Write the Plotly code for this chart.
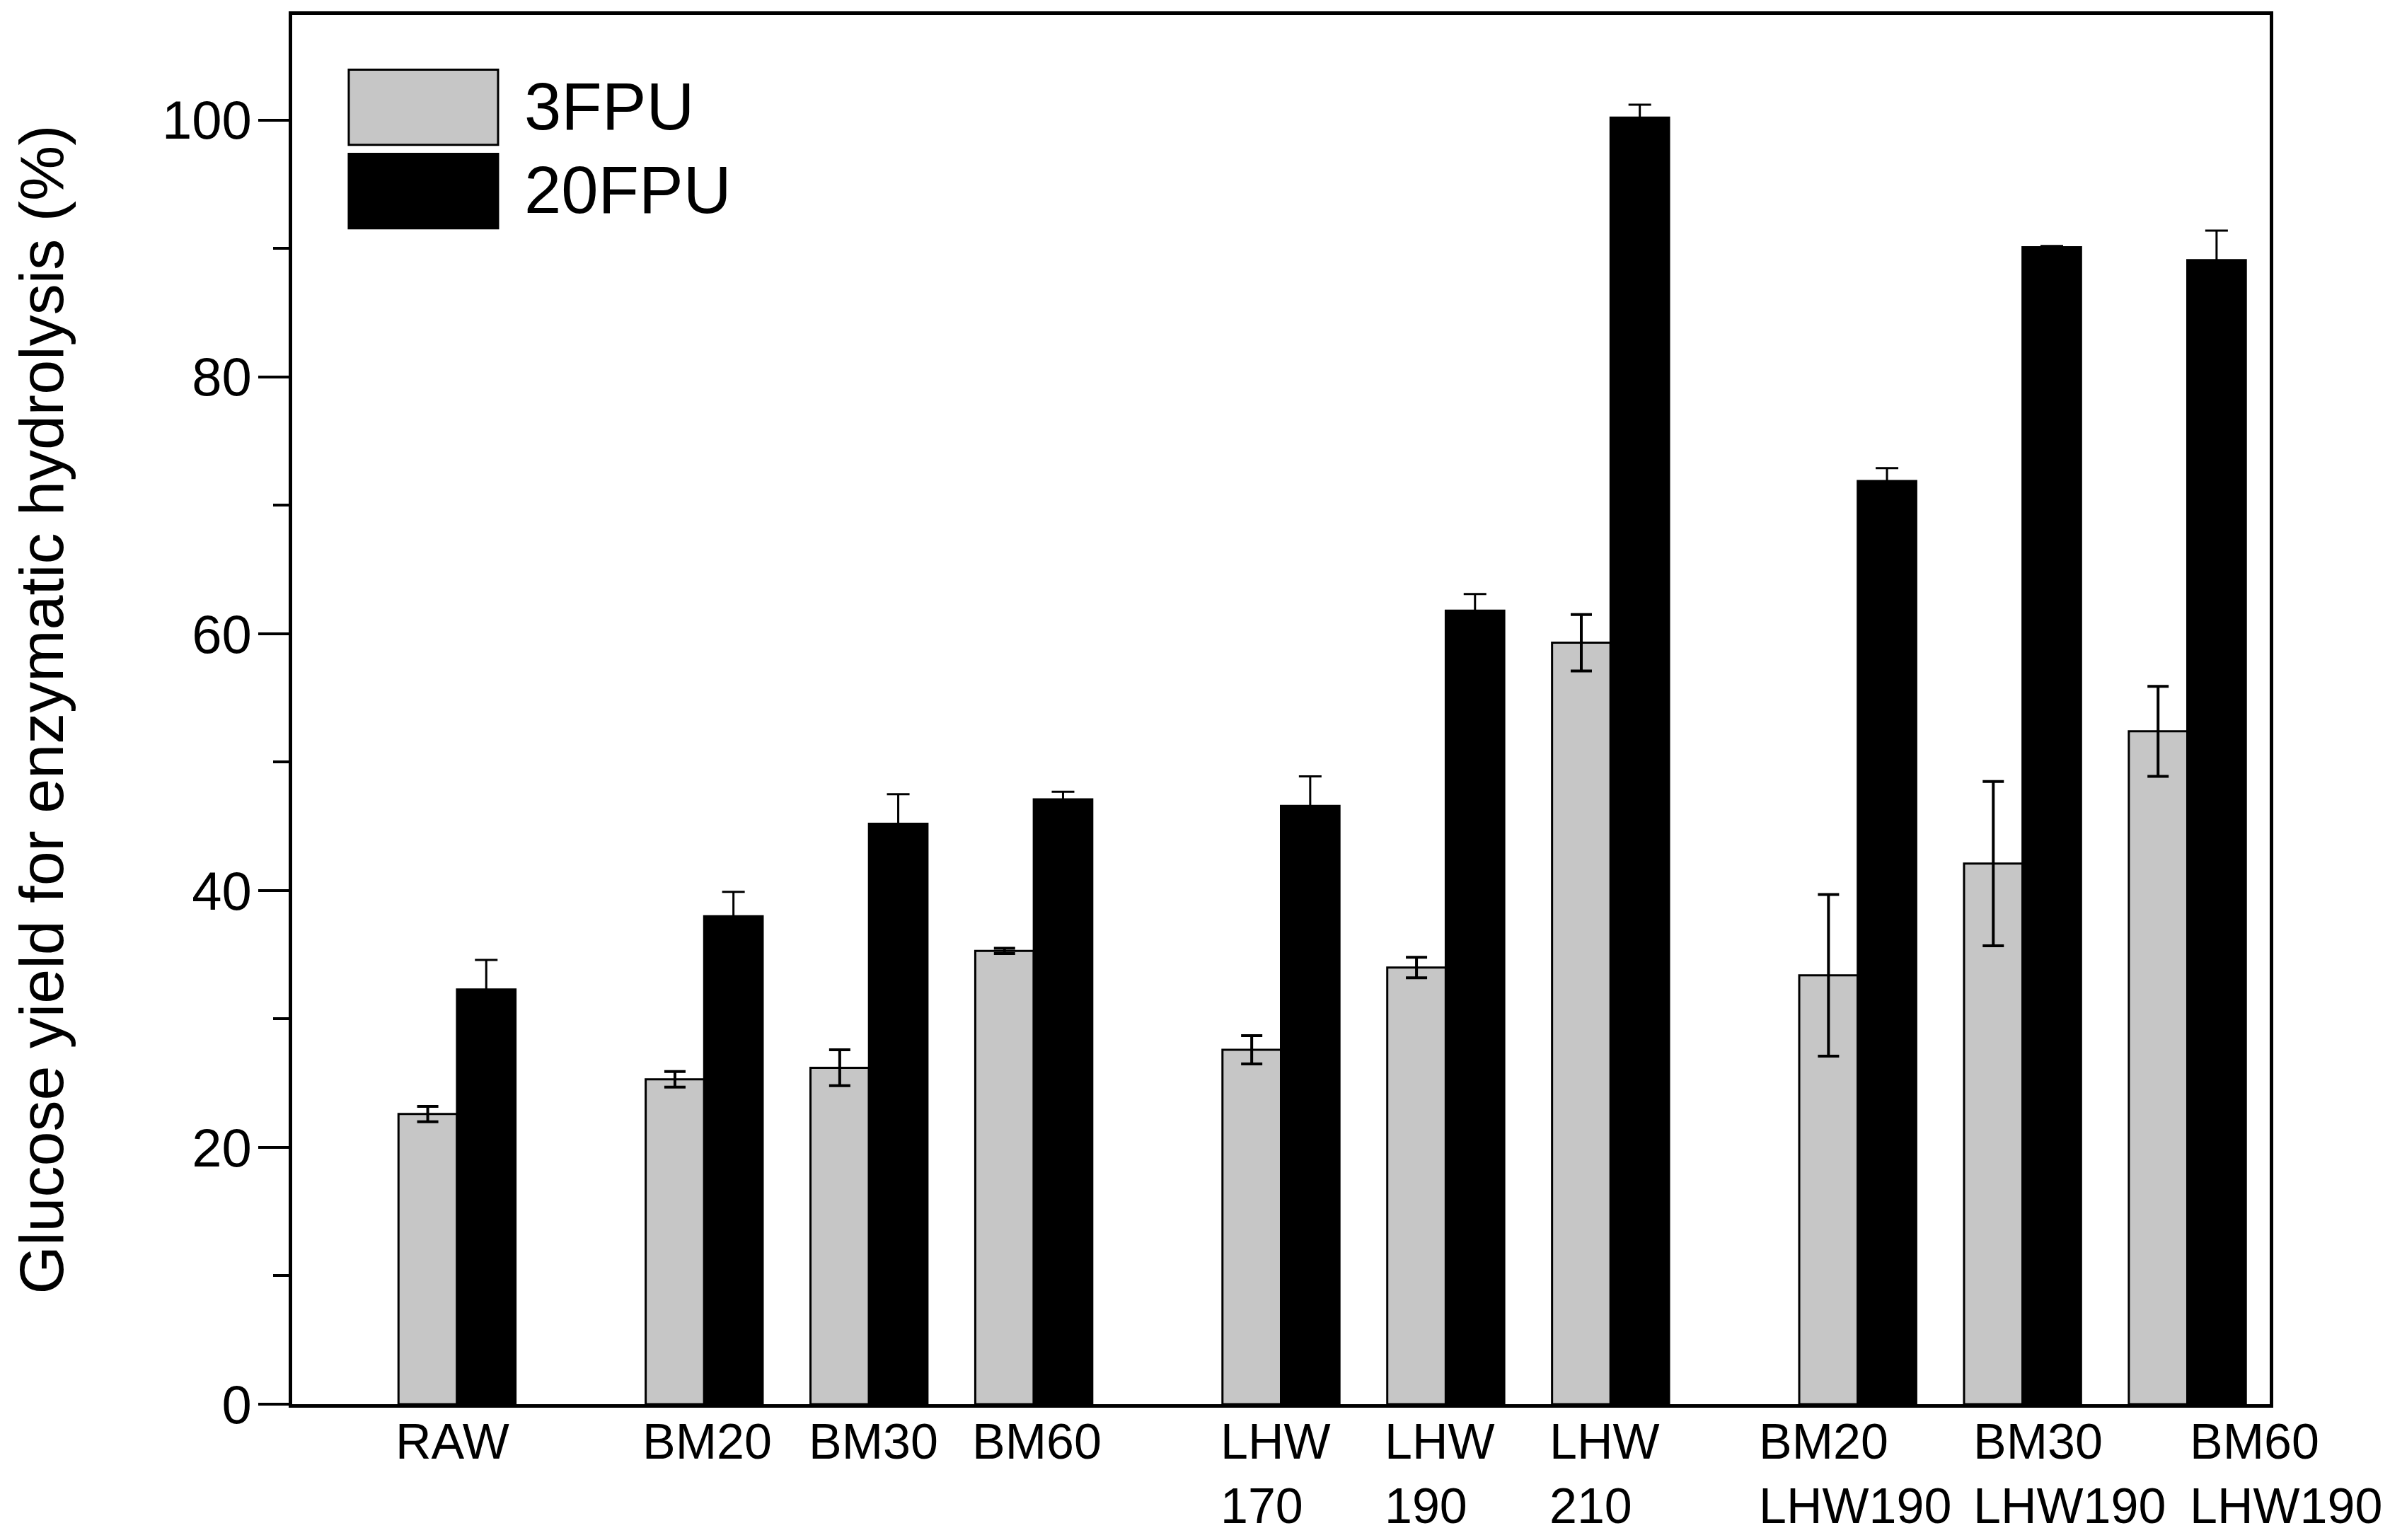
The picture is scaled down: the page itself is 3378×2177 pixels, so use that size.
import plotly.graph_objects as go

# ---- data ----
group_sizes = [1, 3, 3, 3]
categories = ["RAW", "BM20", "BM30", "BM60", "LHW 170", "LHW 190", "LHW 210",
              "BM20 LHW190", "BM30 LHW190", "BM60 LHW190"]
tick_labels = ["RAW", "BM20", "BM30", "BM60", "LHW<br>170", "LHW<br>190", "LHW<br>210",
               "BM20<br>LHW190", "BM30<br>LHW190", "BM60<br>LHW190"]
fpu3 = [22.6, 25.3, 26.2, 35.3, 27.6, 34.0, 59.3, 33.4, 42.1, 52.4]
fpu3_err = [0.6, 0.6, 1.4, 0.2, 1.1, 0.8, 2.2, 6.3, 6.4, 3.5]
fpu20 = [32.3, 38.0, 45.2, 47.1, 46.6, 61.8, 100.2, 71.9, 90.1, 89.1]
fpu20_err = [2.3, 1.9, 2.3, 0.6, 2.3, 1.3, 1.0, 1.0, 0.1, 2.3]
series_names = ["3FPU", "20FPU"]
y_ticks = [0, 20, 40, 60, 80, 100]
y_minor = [10, 30, 50, 70, 90]

# label placement tweaks (layout only, pixels)
label_xshift = [-6, 4, 6, 4, -8, -8, -8, -4, 66, 139]

# ---- category positions (groups separated by an extra half slot) ----
positions = []
p = 0.0
for n in group_sizes:
    for _ in range(n):
        positions.append(p)
        p += 1.0
    p += 0.5

GRAY = "#c6c6c6"
BLACK = "#000000"
FONT = "Liberation Sans, Arial, sans-serif"

fig = go.Figure()
fig.add_trace(go.Bar(
    x=positions, y=fpu3, name=series_names[0],
    marker=dict(color=GRAY, line=dict(color=BLACK, width=3)),
    error_y=dict(type="data", array=fpu3_err, visible=True, color=BLACK,
                 thickness=4, width=15),
    showlegend=False,
))
fig.add_trace(go.Bar(
    x=positions, y=fpu20, name=series_names[1],
    marker=dict(color=BLACK, line=dict(color=BLACK, width=3)),
    error_y=dict(type="data", array=fpu20_err, visible=True, color=BLACK,
                 thickness=3, width=16),
    showlegend=False,
))

# x category labels (left-aligned multi-line, as in the original)
for xpos, xs, lab in zip(positions, label_xshift, tick_labels):
    fig.add_annotation(xref="x", yref="paper", x=xpos, y=0,
                       yanchor="top", xanchor="center", align="left",
                       xshift=xs, yshift=-12,
                       text=lab, showarrow=False,
                       font=dict(family=FONT, size=70, color=BLACK))

# custom legend with large swatches
legend_colors = [GRAY, BLACK]
sw_x0, sw_x1 = 0.0286, 0.1041
sw_rows = [(0.9065, 0.9605), (0.8464, 0.8999)]
txt_y = [0.934, 0.874]
for (y0, y1), ty, col, name in zip(sw_rows, txt_y, legend_colors, series_names):
    fig.add_shape(type="rect", xref="paper", yref="paper",
                  x0=sw_x0, x1=sw_x1, y0=y0, y1=y1,
                  fillcolor=col, line=dict(color=BLACK, width=3))
    fig.add_annotation(xref="paper", yref="paper", x=0.1166, y=ty,
                       text=name, showarrow=False, xanchor="left", yanchor="middle",
                       font=dict(family=FONT, size=94, color=BLACK))

fig.update_layout(
    width=3370, height=2169,
    margin=dict(l=405, r=170, t=13, b=192),
    paper_bgcolor="white", plot_bgcolor="white",
    barmode="group", bargap=0.29, bargroupgap=0,
    font=dict(family=FONT, color=BLACK),
    showlegend=False,
)
fig.update_xaxes(
    range=[-1, 11], tickmode="array", tickvals=positions, showticklabels=False,
    ticks="", showgrid=False, zeroline=False, automargin=False,
    showline=True, linecolor=BLACK, linewidth=5, mirror=True,
)
fig.update_yaxes(
    range=[0, 108.2], tickmode="array", tickvals=y_ticks, automargin=False,
    ticks="outside", ticklen=43, tickwidth=4, tickcolor=BLACK,
    minor=dict(tickmode="array", tickvals=y_minor, ticks="outside",
               ticklen=22, tickwidth=4, tickcolor=BLACK),
    showgrid=False, zeroline=False,
    showline=True, linecolor=BLACK, linewidth=5, mirror=True,
    tickfont=dict(family=FONT, size=76, color=BLACK), ticklabelstandoff=-6,
    title=dict(text="Glucose yield for enzymatic hydrolysis (%)",
               font=dict(family=FONT, size=88, color=BLACK), standoff=112),
)

fig.write_html("out.html")
